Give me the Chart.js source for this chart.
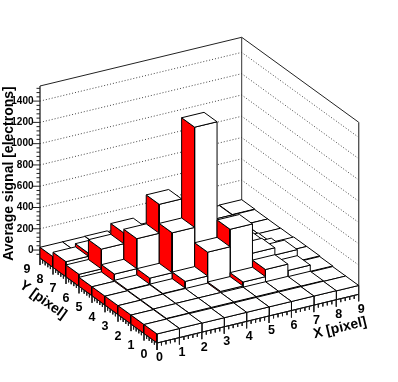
<!DOCTYPE html>
<html>
<head>
<meta charset="utf-8">
<style>
  html, body { margin: 0; padding: 0; background: #fff; }
  #wrap { width: 398px; height: 382px; }
</style>
<script src="https://cdn.jsdelivr.net/npm/chart.js@4"></script>
</head>
<body>
<div id="wrap"><canvas id="lego"></canvas></div>
<script>
// bin values, rows go from y bin 0 up to y bin 8, columns are x bins 0..8
const row0 = [10, 12, 10, 10, 10, 10, 10, 10, 8];
const row1 = [10, 16, 18, 18, 18, 18, 18, 15, 8];
const row2 = [10, 16, 18, 18, 29, 66, 133, 73, 14];
const row3 = [10, 16, 22, 85, 309, 473, 198, 130, 20];
const row4 = [10, 20, 78, 453, 1395, 100, 190, 60, 20];
const row5 = [10, 78, 360, 632, 120, 60, 30, 20, 14];
const row6 = [38, 224, 325, 60, 40, 20, 14, 12, 12];
const row7 = [68, 98, 40, 30, 20, 14, 12, 12, 12];
const row8 = [26, 26, 28, 20, 14, 12, 12, 12, 16];
const signal = [row0, row1, row2, row3, row4, row5, row6, row7, row8];

const xTicks = [0, 1, 2, 3, 4, 5, 6, 7, 8, 9];
const yTicks = [0, 1, 2, 3, 4, 5, 6, 7, 8, 9];
const zTicks = [0, 200, 400, 600, 800, 1000, 1200, 1400];
const zMin = -75, zMax = 1542;

// projection of the box, front corner is x=0 y=0 z=zMin
function proj(x, y, z) {
  return {
    x: 157 + 22.41 * x - 13 * y,
    y: 343 - 5.41 * x - 9.44 * y - (z - zMin) * 0.1064
  };
}

const black = '#000';
const red = '#ff0000';
const datasets = [];

function line(points, color, width, dash) {
  datasets.unshift({
    data: points, showLine: true, fill: false, pointRadius: 0,
    borderColor: color, borderWidth: width, borderDash: dash || []
  });
}
function face(points, color) {
  datasets.unshift({
    data: points.concat([points[0]]), showLine: true, fill: 'shape', pointRadius: 0,
    backgroundColor: color, borderColor: black, borderWidth: 1
  });
}

// walls
const gap = { x: null, y: null };
let gridLines = [];
zTicks.forEach(z => {
  gridLines.push(proj(0, 9, z), proj(9, 9, z), proj(9, 0, z), gap);
});
line(gridLines, '#444', 1, [1, 2]);
line([proj(0, 9, zMax), proj(9, 9, zMax), proj(9, 0, zMax)], '#222', 1);
line([proj(9, 9, zMin), proj(9, 9, zMax)], '#333', 1);
line([proj(9, 0, zMin), proj(9, 0, zMax)], '#555', 1.4);
line([proj(0, 9, zMin), proj(0, 9, zMax)], '#333', 1.4);

// bins, painted from the far corner to the front
for (let j = 8; j >= 0; j--) {
  for (let i = 8; i >= 0; i--) {
    const v = signal[j][i];
    face([proj(i, j, zMin), proj(i, j + 1, zMin), proj(i, j + 1, v), proj(i, j, v)], red);
    face([proj(i, j, zMin), proj(i + 1, j, zMin), proj(i + 1, j, v), proj(i, j, v)], '#fff');
    face([proj(i, j, v), proj(i + 1, j, v), proj(i + 1, j + 1, v), proj(i, j + 1, v)], '#fff');
  }
}

// axis ticks
let tickMarks = [];
for (let k = 0; k <= 45; k++) {
  const len = k % 5 === 0 ? 7 : 3.5;
  const a = proj(k / 5, 0, zMin), b = proj(0, k / 5, zMin);
  tickMarks.push(a, { x: a.x, y: a.y + len }, gap, b, { x: b.x, y: b.y + len }, gap);
}
for (let z = -40; z < zMax; z += 40) {
  const a = proj(0, 9, z);
  tickMarks.push(a, { x: a.x - (z % 200 === 0 ? 7 : 3.5), y: a.y }, gap);
}
line(tickMarks, '#222', 1);
line([proj(0, 0, zMin), proj(9, 0, zMin)], '#111', 1);
line([proj(0, 0, zMin), proj(0, 9, zMin)], '#111', 1);

// text is placed through the same scales as the marks
const axisText = {
  id: 'axisText',
  afterDraw(chart) {
    const c = chart.ctx, sx = chart.scales.x, sy = chart.scales.y;
    const put = (txt, p, font, align, rot) => {
      c.save();
      c.translate(sx.getPixelForValue(p.x), sy.getPixelForValue(p.y));
      c.rotate(rot || 0);
      c.font = font;
      c.fillStyle = black;
      c.textAlign = align;
      c.textBaseline = 'middle';
      c.fillText(txt, 0, 0);
      c.restore();
    };
    const tickFont = 'bold 12.5px "Liberation Sans"';
    xTicks.forEach(t => {
      const p = proj(t, 0, zMin);
      put(String(t), { x: p.x + 2.5, y: p.y + 15 }, tickFont, 'center');
    });
    yTicks.forEach(t => {
      const p = proj(0, t, zMin);
      put(String(t), { x: p.x - 13, y: p.y + 12 }, tickFont, 'center');
    });
    zTicks.forEach(t => {
      const p = proj(0, 9, t);
      put(String(t), { x: p.x - 6.5, y: p.y }, 'bold 10px "Liberation Sans"', 'right');
    });
    const titleFont = 'bold 14px "Liberation Sans"';
    put('Average signal [electrons]', { x: 9.5, y: 173.5 }, titleFont, 'center', -Math.PI / 2);
    put('Y [pixel]', { x: 43, y: 300 }, titleFont, 'center', Math.atan2(9.44, 13));
    put('X [pixel]', { x: 340, y: 328 }, titleFont, 'center', -Math.atan2(5.41, 22.41));
  }
};

const chart = new Chart(document.getElementById('lego').getContext('2d'), {
  type: 'scatter',
  data: { datasets: datasets },
  plugins: [axisText],
  options: {
    responsive: true,
    maintainAspectRatio: false,
    animation: false,
    elements: { line: { tension: 0, borderJoinStyle: 'round' } },
    plugins: { legend: { display: false }, tooltip: { enabled: false } },
    scales: {
      x: { type: 'linear', min: 0, max: 398, display: false },
      y: { type: 'linear', min: 0, max: 382, reverse: true, display: false }
    }
  }
});
</script>
</body>
</html>
